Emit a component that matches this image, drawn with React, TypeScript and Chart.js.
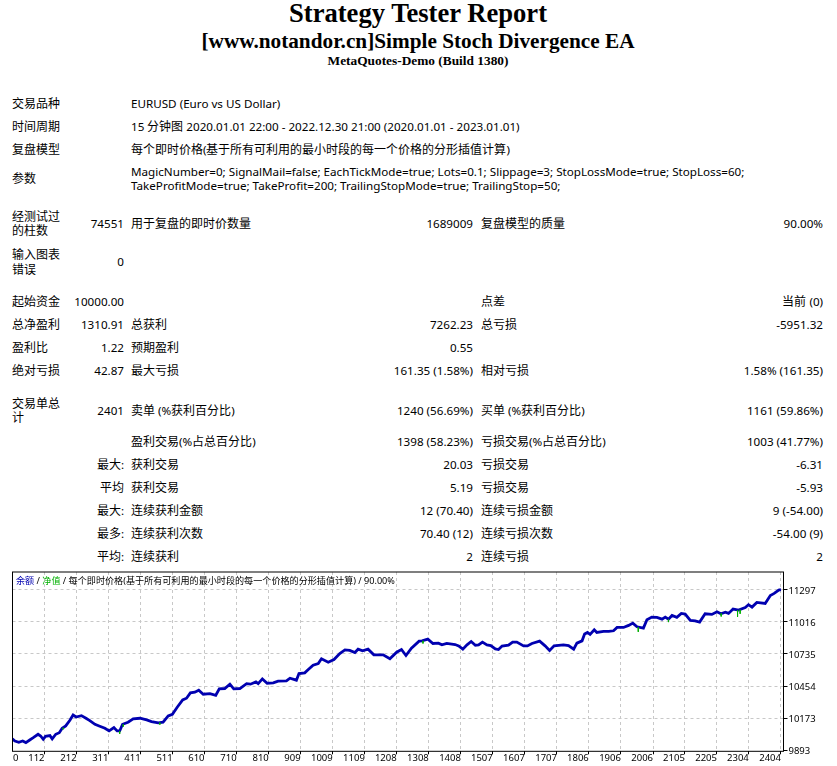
import { useEffect, useRef } from 'react'
import { Chart, registerables } from 'chart.js'

Chart.register(...registerables)

const balanceTrades = [
  12, 20, 32, 44, 54, 66, 77, 92, 100, 108, 115, 129, 136, 147, 158, 167, 178, 191, 201, 210, 227, 241, 253, 269, 284,
  300, 313, 328, 338, 346, 355, 372, 388, 409, 430, 445, 466, 481, 497, 510, 525, 542, 554, 566, 580, 592, 606, 627,
  645, 656, 673, 689, 701, 720, 741, 753, 770, 777, 790, 805, 824, 839, 865, 876, 896, 904, 922, 933, 948, 964, 974,
  995, 1013, 1031, 1047, 1062, 1078, 1088, 1102, 1119, 1137, 1166, 1187, 1208, 1223, 1237, 1254, 1278, 1287, 1305,
  1321, 1338, 1349, 1364, 1390, 1401, 1414, 1427, 1440, 1453, 1463, 1475, 1489, 1501, 1515, 1525, 1536, 1556, 1569,
  1582, 1603, 1615, 1629, 1653, 1670, 1684, 1698, 1727, 1743, 1759, 1769, 1785, 1793, 1802, 1810, 1823, 1831, 1852,
  1868, 1883, 1894, 1914, 1930, 1943, 1956, 1976, 1987, 2002, 2018, 2034, 2044, 2054, 2065, 2080, 2094, 2106, 2122,
  2137, 2151, 2168, 2189, 2205, 2217, 2231, 2241, 2255, 2272, 2293, 2303, 2314, 2329, 2355, 2371, 2383, 2397, 2404,
]
const balanceValues = [
  9992, 9974, 9963, 9974, 9960, 9983, 10003, 10033, 10018, 9989, 10015, 10021, 9992, 10033, 10047, 10085, 10106, 10155,
  10202, 10184, 10196, 10173, 10152, 10120, 10103, 10085, 10062, 10091, 10062, 10062, 10120, 10138, 10167, 10173,
  10158, 10144, 10132, 10138, 10193, 10208, 10269, 10333, 10348, 10395, 10401, 10418, 10383, 10389, 10374, 10430,
  10433, 10471, 10430, 10433, 10476, 10471, 10491, 10476, 10517, 10479, 10482, 10497, 10500, 10523, 10506, 10564,
  10570, 10599, 10637, 10652, 10693, 10663, 10687, 10739, 10771, 10766, 10748, 10777, 10763, 10777, 10728, 10728,
  10693, 10751, 10774, 10722, 10786, 10847, 10850, 10865, 10827, 10830, 10815, 10827, 10818, 10806, 10777, 10815,
  10844, 10812, 10815, 10839, 10815, 10809, 10780, 10774, 10804, 10812, 10839, 10839, 10806, 10806, 10827, 10847,
  10806, 10766, 10806, 10815, 10809, 10777, 10830, 10850, 10909, 10923, 10906, 10947, 10923, 10932, 10932, 10938,
  10967, 10967, 10985, 11005, 10973, 10961, 11034, 11058, 11055, 11040, 11058, 11040, 11072, 11055, 11090, 11084,
  11028, 11025, 11014, 11087, 11081, 11104, 11087, 11101, 11090, 11128, 11119, 11142, 11166, 11145, 11186, 11177,
  11247, 11265, 11294, 11297,
]

// equity only shows where it dips under the balance line
const equityDipTrades = [170, 346, 357, 471, 1290, 1960, 2054, 2218, 2269, 2277]
const equityDipHigh = [10090, 10062, 10120, 10135, 10850, 10970, 11040, 11090, 11119, 11122]
const equityDipLow = [10076, 10036, 10100, 10117, 10827, 10929, 11014, 11063, 11060, 11087]

const xTicks = [
  112, 212, 311, 411, 511, 610, 710, 810, 909, 1009, 1109, 1208, 1308, 1408, 1507, 1607, 1707, 1806, 1906, 2006, 2105,
  2205, 2304, 2404,
]
const yTicks = [11297, 11016, 10735, 10454, 10173, 9893]

const modelText = '每个即时价格(基于所有可利用的最小时段的每一个价格的分形插值计算)'

const topRows = [
  ['交易品种', 'EURUSD (Euro vs US Dollar)'],
  ['时间周期', '15 分钟图 2020.01.01 22:00 - 2022.12.30 21:00 (2020.01.01 - 2023.01.01)'],
  ['复盘模型', modelText],
  [
    '参数',
    'MagicNumber=0; SignalMail=false; EachTickMode=true; Lots=0.1; Slippage=3; StopLossMode=true; StopLoss=60;\nTakeProfitMode=true; TakeProfit=200; TrailingStopMode=true; TrailingStop=50;',
  ],
]
const barRows = [
  ['经测试过的柱数', '74551', '用于复盘的即时价数量', '1689009', '复盘模型的质量', '90.00%'],
  ['输入图表错误', '0', '', '', '', ''],
]
const moneyRows = [
  ['起始资金', '10000.00', '', '', '点差', '当前 (0)'],
  ['总净盈利', '1310.91', '总获利', '7262.23', '总亏损', '-5951.32'],
  ['盈利比', '1.22', '预期盈利', '0.55', '', ''],
  ['绝对亏损', '42.87', '最大亏损', '161.35 (1.58%)', '相对亏损', '1.58% (161.35)'],
]
const tradeRows = [
  ['交易单总计', '2401', '卖单 (%获利百分比)', '1240 (56.69%)', '买单 (%获利百分比)', '1161 (59.86%)'],
  ['', '', '盈利交易(%占总百分比)', '1398 (58.23%)', '亏损交易(%占总百分比)', '1003 (41.77%)'],
  ['', '最大:', '获利交易', '20.03', '亏损交易', '-6.31'],
  ['', '平均', '获利交易', '5.19', '亏损交易', '-5.93'],
  ['', '最大:', '连续获利金额', '12 (70.40)', '连续亏损金额', '9 (-54.00)'],
  ['', '最多:', '连续获利次数', '70.40 (12)', '连续亏损次数', '-54.00 (9)'],
  ['', '平均:', '连续获利', '2', '连续亏损', '2'],
]

const FONT = '"Noto Sans", "Noto Sans CJK SC", sans-serif'
const BLUE = '#0000b0'
const GREEN = '#00b000'

// frame, the "0" label and the coloured caption are not something the scales can draw
const reportPlugin = {
  id: 'report',
  afterDraw(chart: any) {
    const { ctx, chartArea: a } = chart
    ctx.save()
    ctx.strokeStyle = '#000'
    ctx.lineWidth = 1
    ctx.strokeRect(a.left, a.top, a.right - a.left, a.bottom - a.top)

    ctx.fillStyle = '#000'
    ctx.font = `9.5px ${FONT}`
    ctx.textBaseline = 'top'
    ctx.fillText('0', a.left + 0.5, a.bottom + 2)

    ctx.font = `9.1px ${FONT}`
    ctx.textBaseline = 'middle'
    let x = a.left + 3.5
    const parts = [
      ['余额', BLUE],
      [' / ', '#000'],
      ['净值', GREEN],
      [' / ' + modelText + ' / 90.00%', '#000'],
    ]
    for (const [text, color] of parts) {
      ctx.fillStyle = color
      ctx.fillText(text, x, a.top + 9)
      x += ctx.measureText(text).width
    }
    ctx.restore()
  },
}

function EquityChart() {
  const canvasRef = useRef<HTMLCanvasElement>(null)

  useEffect(() => {
    if (!canvasRef.current) return
    const balance = balanceTrades.map((t, i) => ({ x: t, y: balanceValues[i] }))
    const equity = equityDipTrades.flatMap((t, i) => [
      { x: t, y: equityDipHigh[i] },
      { x: t, y: equityDipLow[i] },
      { x: t, y: null },
    ])

    const chart = new Chart(canvasRef.current, {
      type: 'line',
      data: {
        datasets: [
          { label: '净值', data: equity, borderColor: GREEN, borderWidth: 1, pointRadius: 0, spanGaps: false },
          { label: '余额', data: balance, borderColor: BLUE, borderWidth: 2.8, pointRadius: 0, tension: 0 },
        ],
      },
      options: {
        responsive: false,
        animation: false,
        layout: { padding: { left: 12.5, top: 7, right: 0, bottom: 0 } },
        plugins: { legend: { display: false }, tooltip: { enabled: false } },
        scales: {
          x: {
            type: 'linear',
            min: 12.4,
            max: 2412,
            afterBuildTicks: (s: any) => {
              s.ticks = xTicks.map(value => ({ value }))
            },
            afterFit: (s: any) => {
              s.height = 14.7
            },
            ticks: {
              color: '#000',
              font: { family: FONT, size: 9.5 },
              align: 'end',
              autoSkip: false,
              maxRotation: 0,
              padding: -1.5,
              callback: (v: any) => String(v),
            },
            grid: { color: '#c8c8c8', tickColor: '#000', tickLength: 3 },
            border: { display: false, dash: [3, 3] },
          },
          y: {
            position: 'right',
            min: 9884,
            max: 11452,
            afterBuildTicks: (s: any) => {
              s.ticks = yTicks.map(value => ({ value }))
            },
            afterFit: (s: any) => {
              s.width = 53.5
            },
            ticks: {
              color: '#000',
              font: { family: FONT, size: 9.5 },
              padding: 1,
              labelOffset: 1.5,
              autoSkip: false,
              callback: (v: any) => String(v),
            },
            grid: {
              color: (c: any) => (c.tick && c.tick.value === 9893 ? 'transparent' : '#c8c8c8'),
              tickColor: '#000',
              tickLength: 4,
            },
            border: { display: false, dash: [3, 3] },
          },
        },
      },
      plugins: [reportPlugin],
    } as any)

    return () => chart.destroy()
  }, [])

  return (
    <canvas
      ref={canvasRef}
      width={837}
      height={201}
      style={{ position: 'absolute', left: 0, top: 565, width: 837, height: 201, display: 'block' }}
    />
  )
}

const tdNum = { textAlign: 'right' as const, padding: 0 }
const tdText = { textAlign: 'left' as const, padding: 0 }

function TopRow({ row, height }: { row: string[]; height: number }) {
  return (
    <tr style={{ height }}>
      <td style={tdText}>{row[0]}</td>
      <td style={tdNum} />
      <td colSpan={4} style={{ ...tdText, paddingLeft: 7, whiteSpace: 'pre-line' }}>
        {row[1]}
      </td>
    </tr>
  )
}

function StatRow({ row, height }: { row: string[]; height: number }) {
  return (
    <tr style={{ height }}>
      <td style={tdText}>{row[0]}</td>
      <td style={tdNum}>{row[1]}</td>
      <td style={{ ...tdText, paddingLeft: 7 }}>{row[2]}</td>
      <td style={tdNum}>{row[3]}</td>
      <td style={{ ...tdText, paddingLeft: 8 }}>{row[4]}</td>
      <td style={tdNum}>{row[5]}</td>
    </tr>
  )
}

const Spacer = ({ height }: { height: number }) => (
  <tr style={{ height }}>
    <td colSpan={6} style={{ padding: 0 }} />
  </tr>
)

// the report's CJK glyphs are a full 12px while its latin text runs a little smaller
const cjkFace = `@font-face { font-family: "ReportCJK"; src: local("Noto Sans CJK SC"); size-adjust: 103%; unicode-range: U+2E80-9FFF, U+FF00-FFEF; }`

export default function App() {
  const head = { position: 'absolute' as const, left: 0, width: 836, textAlign: 'center' as const, fontFamily: '"Liberation Serif", serif', fontWeight: 700, whiteSpace: 'nowrap' as const }
  return (
    <div style={{ position: 'absolute', left: 0, top: 0, width: 837, height: 766, overflow: 'hidden', background: '#fff' }}>
      <style>{cjkFace}</style>
      <div style={{ ...head, top: -1, fontSize: 26.6, lineHeight: '28px' }}>Strategy Tester Report</div>
      <div style={{ ...head, top: 30, fontSize: 21.25, lineHeight: '22px' }}>[www.notandor.cn]Simple Stoch Divergence EA</div>
      <div style={{ ...head, top: 53, fontSize: 13.35, lineHeight: '15px' }}>MetaQuotes-Demo (Build 1380)</div>

      <table
        style={{
          position: 'absolute',
          left: 12,
          top: 92.5,
          width: 811,
          tableLayout: 'fixed',
          borderCollapse: 'collapse',
          fontFamily: `"ReportCJK", ${FONT}`,
          fontSize: 11.65,
          lineHeight: '14.5px',
          color: '#000',
        }}
      >
        <colgroup>
          <col style={{ width: 50 }} />
          <col style={{ width: 62 }} />
          <col style={{ width: 176 }} />
          <col style={{ width: 173 }} />
          <col style={{ width: 177 }} />
          <col style={{ width: 173 }} />
        </colgroup>
        <tbody>
          {topRows.map((r, i) => (
            <TopRow key={i} row={r} height={i === 3 ? 35 : 23} />
          ))}
          <Spacer height={8.5} />
          {barRows.map((r, i) => (
            <StatRow key={i} row={r} height={i === 0 ? 38 : 39} />
          ))}
          <Spacer height={8.5} />
          {moneyRows.map((r, i) => (
            <StatRow key={i} row={r} height={23} />
          ))}
          <Spacer height={9} />
          {tradeRows.map((r, i) => (
            <StatRow key={i} row={r} height={i === 0 ? 39 : 23} />
          ))}
        </tbody>
      </table>

      <EquityChart />
    </div>
  )
}
